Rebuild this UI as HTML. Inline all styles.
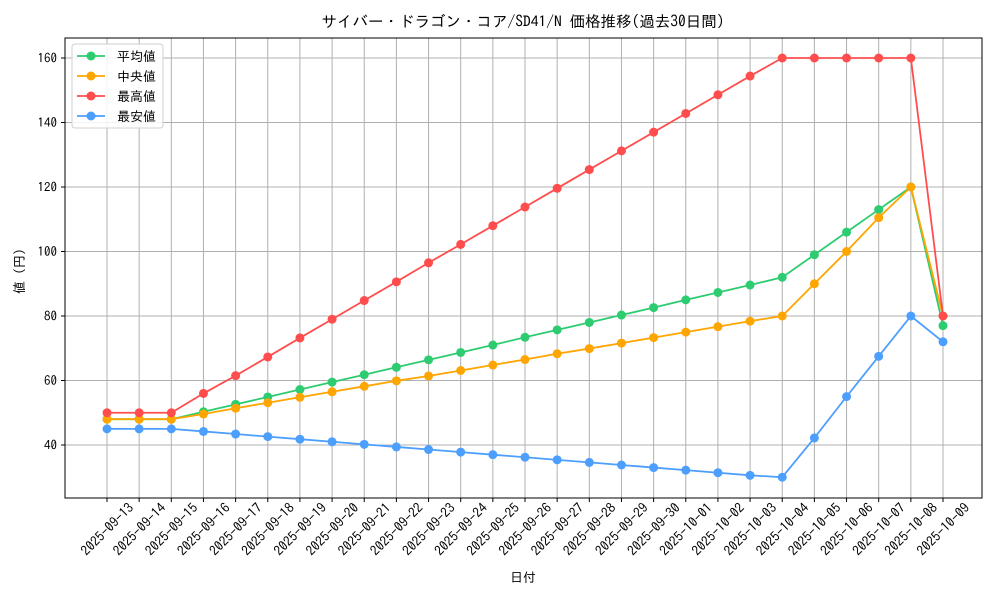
<!DOCTYPE html>
<html><head><meta charset="utf-8"><style>body{margin:0;background:#fff}svg{font-family:"IPAGothic","Noto Sans CJK JP",sans-serif}</style></head>
<body>
<svg id="chart" width="1000" height="600" xmlns="http://www.w3.org/2000/svg"></svg>
<script>
const dates=["2025-09-13","2025-09-14","2025-09-15","2025-09-16","2025-09-17","2025-09-18","2025-09-19","2025-09-20","2025-09-21","2025-09-22","2025-09-23","2025-09-24","2025-09-25","2025-09-26","2025-09-27","2025-09-28","2025-09-29","2025-09-30","2025-10-01","2025-10-02","2025-10-03","2025-10-04","2025-10-05","2025-10-06","2025-10-07","2025-10-08","2025-10-09"];
const meanVals=[48,48,48,50.3,52.6,54.9,57.2,59.5,61.8,64.1,66.4,68.7,71,73.4,75.7,78,80.3,82.6,85,87.3,89.6,92,99,106,113,120,77];
const medianVals=[48,48,48,49.6,51.4,53.1,54.8,56.5,58.2,59.9,61.4,63.1,64.8,66.5,68.3,69.9,71.6,73.3,75,76.7,78.4,80,90,100,110.5,120,80];
const maxVals=[50,50,50,56,61.5,67.3,73.2,79,84.8,90.6,96.5,102.2,108,113.8,119.6,125.4,131.2,137,142.8,148.6,154.4,160,160,160,160,160,80];
const minVals=[45,45,45,44.2,43.4,42.6,41.8,41,40.2,39.4,38.6,37.8,37,36.2,35.4,34.6,33.8,33,32.2,31.4,30.6,30,42.2,55,67.5,80,72];
const yTicks=[40,60,80,100,120,140,160];
const seriesNames=["平均値","中央値","最高値","最安値"];
const colors=["#2ecc71","#ffa500","#ff4d4d","#4d9fff"];
const svg=document.getElementById('chart');const NS="http://www.w3.org/2000/svg";
const L=65,R=982,T=38,B=498;
const xs=i=>107+i*(943-107)/(dates.length-1);
const ys=v=>445-(v-40)*(445-58)/120;
function mk(tag,a,p){const e=document.createElementNS(NS,tag);for(const k in a)e.setAttribute(k,a[k]);(p||svg).appendChild(e);return e;}
const t=mk('text',{x:523,y:27,'text-anchor':'middle','font-size':15.5});t.textContent="サイバー・ドラゴン・コア/SD41/N 価格推移(過去30日間)";


dates.forEach((d,i)=>{const x=xs(i);
const g=mk('line',{x1:x,x2:x,y1:T,y2:B,stroke:'#b0b0b0','stroke-width':1});


mk('line',{x1:x,x2:x,y1:B,y2:B+4,stroke:'#000'});
const l=mk('text',{x:x,y:529,'text-anchor':'middle','dominant-baseline':'central','font-size':13.5,transform:`rotate(-45 ${x} 529)`});l.textContent=d;

});
yTicks.forEach(v=>{const y=ys(v);
const g=mk('line',{x1:L,x2:R,y1:y,y2:y,stroke:'#b0b0b0','stroke-width':1});


mk('line',{x1:L-4,x2:L,y1:y,y2:y,stroke:'#000'});
const l=mk('text',{x:L-8,y:y+4.5,'text-anchor':'end','font-size':13});l.textContent=v;

});
const ax=mk('rect',{x:L,y:T,width:R-L,height:B-T,fill:'none',stroke:'#000','stroke-width':1});


[meanVals,medianVals,maxVals,minVals].forEach((arr,s)=>{
const p=mk('polyline',{points:arr.map((v,i)=>xs(i)+','+ys(v)).join(' '),fill:'none',stroke:colors[s],'stroke-width':1.8});


arr.forEach((v,i)=>{const c=mk('circle',{cx:xs(i),cy:ys(v),r:4.5,fill:colors[s]});

});});
const xl=mk('text',{x:523,y:582,'text-anchor':'middle','font-size':13});xl.textContent="日付";


const yl=mk('text',{x:24,y:268,'text-anchor':'middle','font-size':13,transform:'rotate(-90 24 268)'});yl.textContent="値（円）";


const lg=mk('g',{});


mk('rect',{x:72,y:44,width:91,height:84,rx:3,fill:'#fff','fill-opacity':0.85,stroke:'#d0d0d0'},lg);
seriesNames.forEach((n,s)=>{const y=56+s*20;
mk('line',{x1:77,x2:105,y1:y,y2:y,stroke:colors[s],'stroke-width':1.8},lg);
mk('circle',{cx:91,cy:y,r:4.5,fill:colors[s]},lg);
const e=mk('text',{x:117,y:y+5,'font-size':13},lg);e.textContent=n;

});
</script>
</body></html>
